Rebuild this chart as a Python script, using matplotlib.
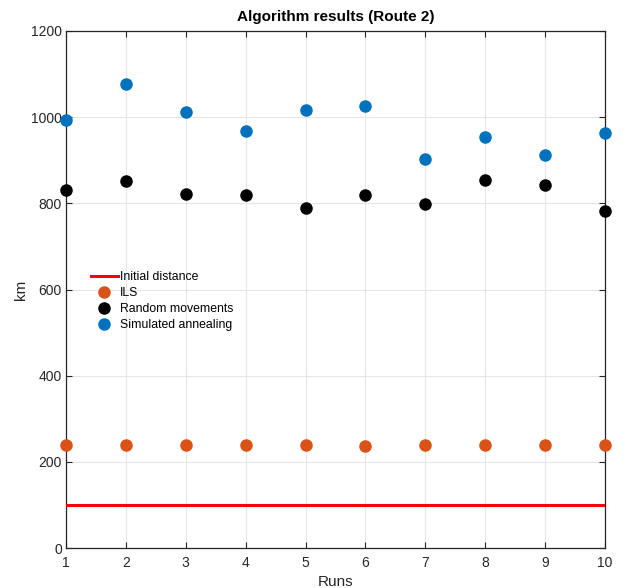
import matplotlib
matplotlib.use("Agg")
import matplotlib.pyplot as plt

runs = [1, 2, 3, 4, 5, 6, 7, 8, 9, 10]
initial_distance = [100] * 10
ils = [238, 238, 238, 238, 239, 236, 239, 239, 239, 238]
random_moves = [831, 851, 822, 819, 790, 819, 799, 854, 843, 783]
sim_annealing = [994, 1077, 1013, 968, 1016, 1027, 902, 955, 912, 964]

plt.rcParams['font.family'] = ['Liberation Sans', 'DejaVu Sans']
fig = plt.figure(figsize=(6.26, 5.88), dpi=100)
ax = fig.add_axes([66/626, 40/588, (605-66)/626, (548-31)/588])

ax.plot(runs, initial_distance, color='#FF0000', lw=2.2, label='Initial distance', zorder=3)
ax.plot(runs, ils, 'o', color='#D95319', ms=8, mec='#D95319', label='ILS', clip_on=False, zorder=4)
ax.plot(runs, random_moves, 'o', color='#000000', ms=8, label='Random movements', clip_on=False, zorder=4)
ax.plot(runs, sim_annealing, 'o', color='#0072BD', ms=8, mec='#0072BD', label='Simulated annealing', clip_on=False, zorder=4)

ax.set_xlim(1, 10)
ax.set_ylim(0, 1200)
ax.set_xticks(runs)
ax.set_yticks(range(0, 1201, 200))
ax.grid(True, color='#E6E6E6', lw=0.8)
ax.set_axisbelow(True)
ax.tick_params(direction='in', top=True, right=True, length=4, width=0.8,
               labelsize=10, colors='#262626')
ax.tick_params(axis='x', pad=6)
ax.tick_params(axis='y', pad=3)
for s in ax.spines.values():
    s.set_color('#262626')
    s.set_linewidth(0.9)
ax.set_xlabel('Runs', fontsize=11, color='#262626', labelpad=3)
ax.set_ylabel('km', fontsize=11, color='#262626', labelpad=2)
ax.set_title('Algorithm results (Route 2)', fontsize=11, fontweight='bold', pad=7)

leg = ax.legend(loc='upper left', bbox_to_anchor=(0.03, 0.552), frameon=False,
                fontsize=8.8, handlelength=2.2, handletextpad=0.2, borderpad=0.2,
                labelspacing=0.33)
fig.savefig('out.png', dpi=100)
